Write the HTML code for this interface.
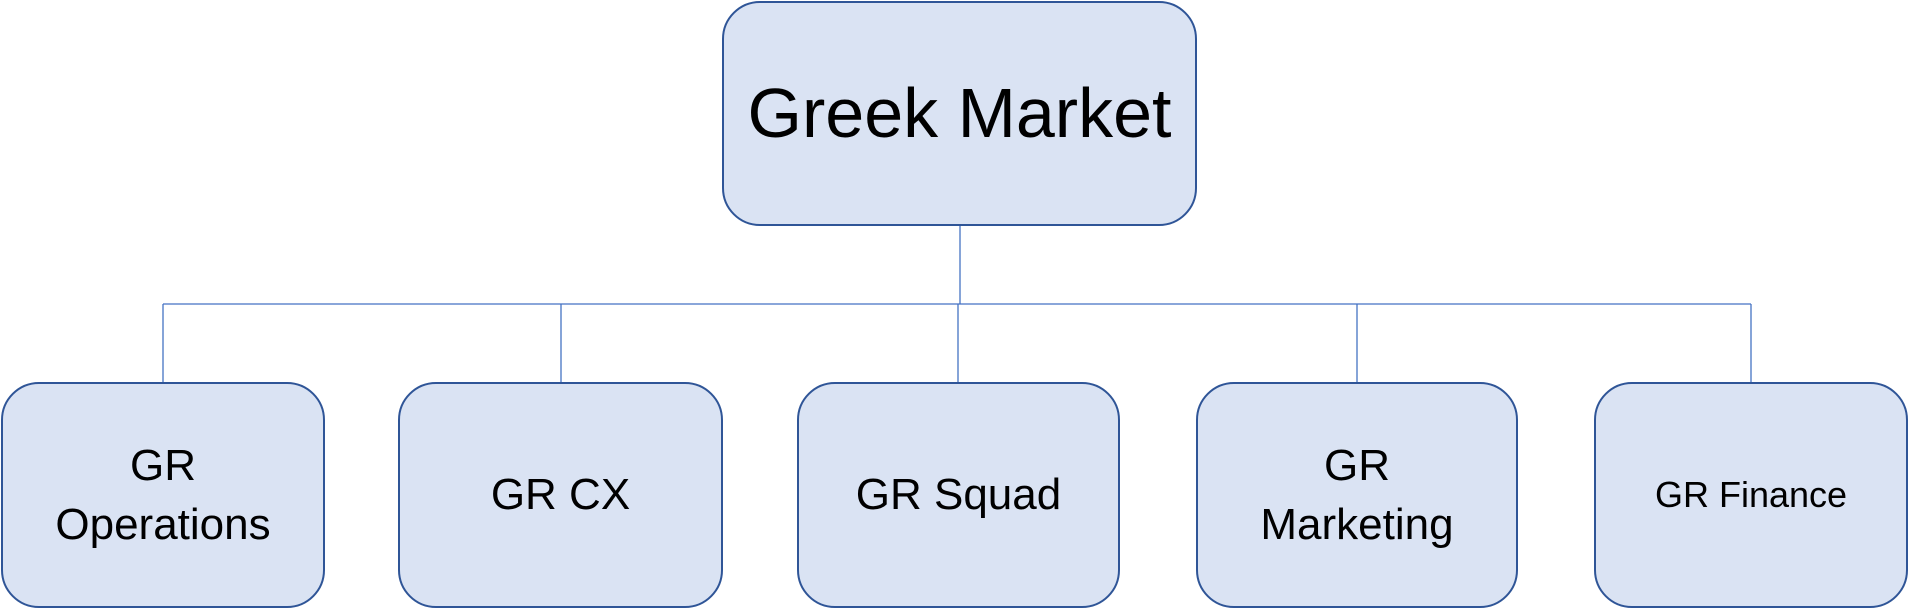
<!DOCTYPE html>
<html><head><style>
body{margin:0;width:1910px;height:609px;background:#fff;position:relative;overflow:hidden;font-family:"Liberation Sans",sans-serif;}
.b{position:absolute;box-sizing:border-box;background:#dae3f3;border:2px solid #2f5597;border-radius:38px;display:flex;align-items:center;justify-content:center;text-align:center;color:#000;line-height:1.35;}
.c{font-size:44px;}
</style></head><body>
<svg width="1910" height="609" style="position:absolute;left:0;top:0">
<g stroke="#4472c4" stroke-width="1.3" fill="none">
<line x1="960" y1="225" x2="960" y2="304"/>
<line x1="163" y1="304" x2="1751" y2="304"/>
<line x1="163" y1="304" x2="163" y2="383"/>
<line x1="561" y1="304" x2="561" y2="383"/>
<line x1="958" y1="304" x2="958" y2="383"/>
<line x1="1357" y1="304" x2="1357" y2="383"/>
<line x1="1751" y1="304" x2="1751" y2="383"/>
</g></svg>
<div class="b" style="left:722px;top:1px;width:475px;height:225px;font-size:70px;">Greek Market</div>
<div class="b c" style="left:1px;top:382px;width:324px;height:226px;">GR<br>Operations</div>
<div class="b c" style="left:398px;top:382px;width:325px;height:226px;">GR CX</div>
<div class="b c" style="left:797px;top:382px;width:323px;height:226px;">GR Squad</div>
<div class="b c" style="left:1196px;top:382px;width:322px;height:226px;">GR<br>Marketing</div>
<div class="b" style="left:1594px;top:382px;width:314px;height:226px;font-size:36px;">GR Finance</div>
</body></html>
